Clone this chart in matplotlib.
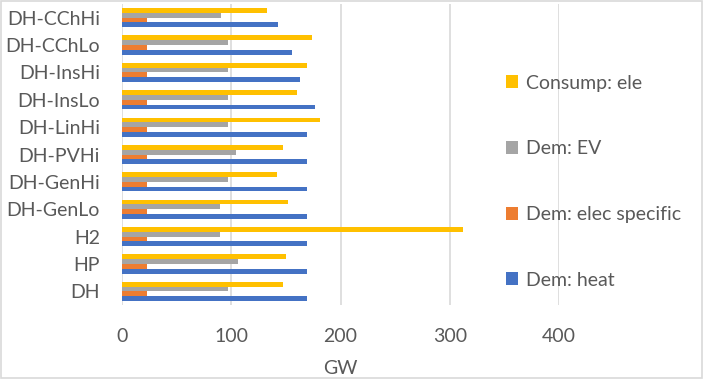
import matplotlib
matplotlib.use("Agg")
import matplotlib.pyplot as plt
from matplotlib.patches import Rectangle, Patch
import numpy as np

plt.rcParams['font.family'] = ['Lato', 'DejaVu Sans']

categories = ["DH", "HP", "H2", "DH-GenLo", "DH-GenHi", "DH-PVHi",
              "DH-LinHi", "DH-InsLo", "DH-InsHi", "DH-CChLo", "DH-CChHi"]

dem_heat = [169, 169, 169, 169, 169, 169, 169, 177, 163, 156, 143]
dem_elec_specific = [23, 23, 23, 23, 23, 23, 23, 23, 23, 23, 23]
dem_ev = [97, 106, 90, 90, 97, 104, 97, 97, 97, 97, 91]
consump_ele = [147, 150, 312, 152, 142, 147, 181, 160, 169, 174, 133]

series = [
    ("Dem: heat", dem_heat, "#4472C4"),
    ("Dem: elec specific", dem_elec_specific, "#ED7D31"),
    ("Dem: EV", dem_ev, "#A5A5A5"),
    ("Consump: ele", consump_ele, "#FFC000"),
]

text_color = "#595959"
grid_color = "#D9D9D9"
fs = 14

fig = plt.figure(figsize=(7.03, 3.81), dpi=100)
ax = fig.add_axes([122 / 703, 76 / 381, 437 / 703, 301 / 381])

y = np.arange(len(categories))
bar_h = 0.175
offsets = (np.arange(len(series)) - (len(series) - 1) / 2) * bar_h

for (name, vals, color), off in zip(series, offsets):
    ax.barh(y + off, vals, height=bar_h, color=color, label=name,
            edgecolor="none", zorder=3)

ax.set_xlim(0, 400)
ax.set_ylim(-0.5, len(categories) - 0.5)
ax.set_xticks([0, 100, 200, 300, 400])
ax.set_yticks(y)
ax.set_yticklabels(categories)
ax.grid(axis="x", color=grid_color, linewidth=1.2, zorder=0)
ax.set_axisbelow(True)
for s in ax.spines.values():
    s.set_visible(False)
ax.tick_params(axis="both", length=0, labelsize=fs, labelcolor=text_color)
ax.tick_params(axis="y", pad=16)
ax.tick_params(axis="x", pad=16.5)
ax.set_xlabel("GW", fontsize=fs, color=text_color, labelpad=11)

handles = [Patch(facecolor=c, edgecolor="none") for _, _, c in series][::-1]
labels = [n for n, _, _ in series][::-1]
fig.legend(handles, labels, loc="upper left",
           bbox_to_anchor=(498 / 703, 1 - 67 / 381),
           frameon=False, fontsize=fs, labelcolor=text_color,
           handlelength=0.65, handleheight=0.65, handletextpad=0.4,
           labelspacing=2.5, borderaxespad=0)

fig.patches.append(Rectangle((0.5 / 703, 3.5 / 381), 701.5 / 703, 377 / 381,
                             transform=fig.transFigure, fill=False,
                             edgecolor="#D9D9D9", linewidth=1.2))

fig.savefig("out.png", dpi=100, facecolor="white")
